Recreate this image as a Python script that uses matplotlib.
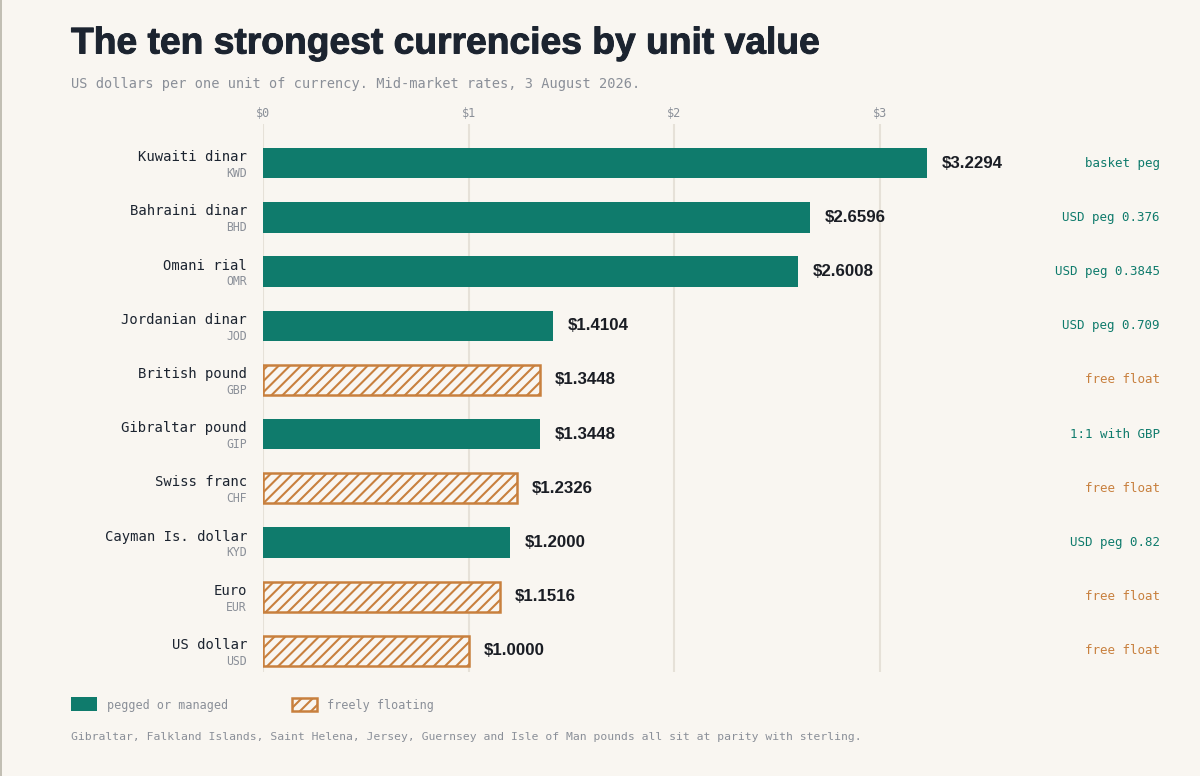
import matplotlib.pyplot as plt
import matplotlib.patheffects as pe
from matplotlib.patches import Rectangle
from matplotlib.lines import Line2D

names = ["Kuwaiti dinar", "Bahraini dinar", "Omani rial", "Jordanian dinar", "British pound",
         "Gibraltar pound", "Swiss franc", "Cayman Is. dollar", "Euro", "US dollar"]
codes = ["KWD", "BHD", "OMR", "JOD", "GBP", "GIP", "CHF", "KYD", "EUR", "USD"]
values = [3.2294, 2.6596, 2.6008, 1.4104, 1.3448, 1.3448, 1.2326, 1.2000, 1.1516, 1.0000]
regimes = ["basket peg", "USD peg 0.376", "USD peg 0.3845", "USD peg 0.709", "free float",
           "1:1 with GBP", "free float", "USD peg 0.82", "free float", "free float"]
floating = [False, False, False, False, True, False, True, False, True, True]
ticks = [0, 1, 2, 3]

BG = "#f9f6f1"
TEAL = "#0f7b6c"
ORANGE = "#c8803e"
GRAY = "#8a8f98"
DARK = "#1c2430"
MONO = "DejaVu Sans Mono"
SANS = "Liberation Sans"

plt.rcParams["hatch.linewidth"] = 1.5

fig = plt.figure(figsize=(12, 7.76), dpi=100, facecolor=BG)
ax = fig.add_axes([263 / 1200, 1 - 672 / 776, 3.3 * 205.67 / 1200, 548 / 776])
ax.set_facecolor(BG)
ax.set_xlim(0, 3.3)
ax.set_ylim(9.389, -0.722)

for t in ticks:
    ax.axvline(t, color="#e6e1d8", lw=1.5, zorder=0)

for i, v in enumerate(values):
    if floating[i]:
        ax.barh(i, v, height=0.56, facecolor=BG, edgecolor=ORANGE, hatch="///", lw=1.8, zorder=2)
        col = ORANGE
    else:
        ax.barh(i, v, height=0.56, color=TEAL, lw=0, zorder=2)
        col = TEAL
    ax.text(v + 0.073, i, "$%.4f" % v, ha="left", va="center", fontsize=12.2,
            fontweight="bold", family=SANS, color="#1a1d24")
    ax.text(4.36, i, regimes[i], ha="right", va="center", fontsize=9, family=MONO,
            color=col, clip_on=False)
    ax.text(-0.078, i - 0.11, names[i], ha="right", va="center", fontsize=10, family=MONO,
            color=DARK, clip_on=False)
    ax.text(-0.078, i + 0.19, codes[i], ha="right", va="center", fontsize=8.3, family=MONO,
            color=GRAY, clip_on=False)

ax.xaxis.tick_top()
ax.set_xticks(ticks)
ax.set_xticklabels(["$%d" % t for t in ticks], family=MONO, fontsize=8.5, color=GRAY)
ax.tick_params(axis="x", length=0, pad=3)
ax.set_yticks([])
for s in ax.spines.values():
    s.set_visible(False)

fig.text(71 / 1200, 1 - 44 / 776, "The ten strongest currencies by unit value", family=SANS,
         fontweight="bold", fontsize=26.8, color=DARK, va="center", ha="left",
         path_effects=[pe.withStroke(linewidth=0.7, foreground=DARK)])
fig.text(71 / 1200, 1 - 84 / 776, "US dollars per one unit of currency. Mid-market rates, 3 August 2026.",
         family=MONO, fontsize=9.8, color=GRAY, va="center", ha="left")

# legend
fig.patches.append(Rectangle((71 / 1200, 1 - 711 / 776), 26 / 1200, 14 / 776,
                             transform=fig.transFigure, facecolor=TEAL, lw=0))
fig.patches.append(Rectangle((292 / 1200, 1 - 710.5 / 776), 25 / 1200, 13 / 776,
                             transform=fig.transFigure, facecolor=BG, edgecolor=ORANGE,
                             hatch="///", lw=1.8))
fig.text(107 / 1200, 1 - 705 / 776, "pegged or managed", family=MONO, fontsize=8.5,
         color=GRAY, va="center", ha="left")
fig.text(327 / 1200, 1 - 705 / 776, "freely floating", family=MONO, fontsize=8.5,
         color=GRAY, va="center", ha="left")
fig.text(71 / 1200, 1 - 737 / 776,
         "Gibraltar, Falkland Islands, Saint Helena, Jersey, Guernsey and Isle of Man pounds all sit at parity with sterling.",
         family=MONO, fontsize=8.2, color=GRAY, va="center", ha="left")

# thin frame line on the left edge
fig.lines.append(Line2D([0.5 / 1200, 0.5 / 1200], [0, 1], transform=fig.transFigure,
                        color="#b8b4a8", lw=1.2))

fig.savefig("out.png", dpi=100, facecolor=BG)
